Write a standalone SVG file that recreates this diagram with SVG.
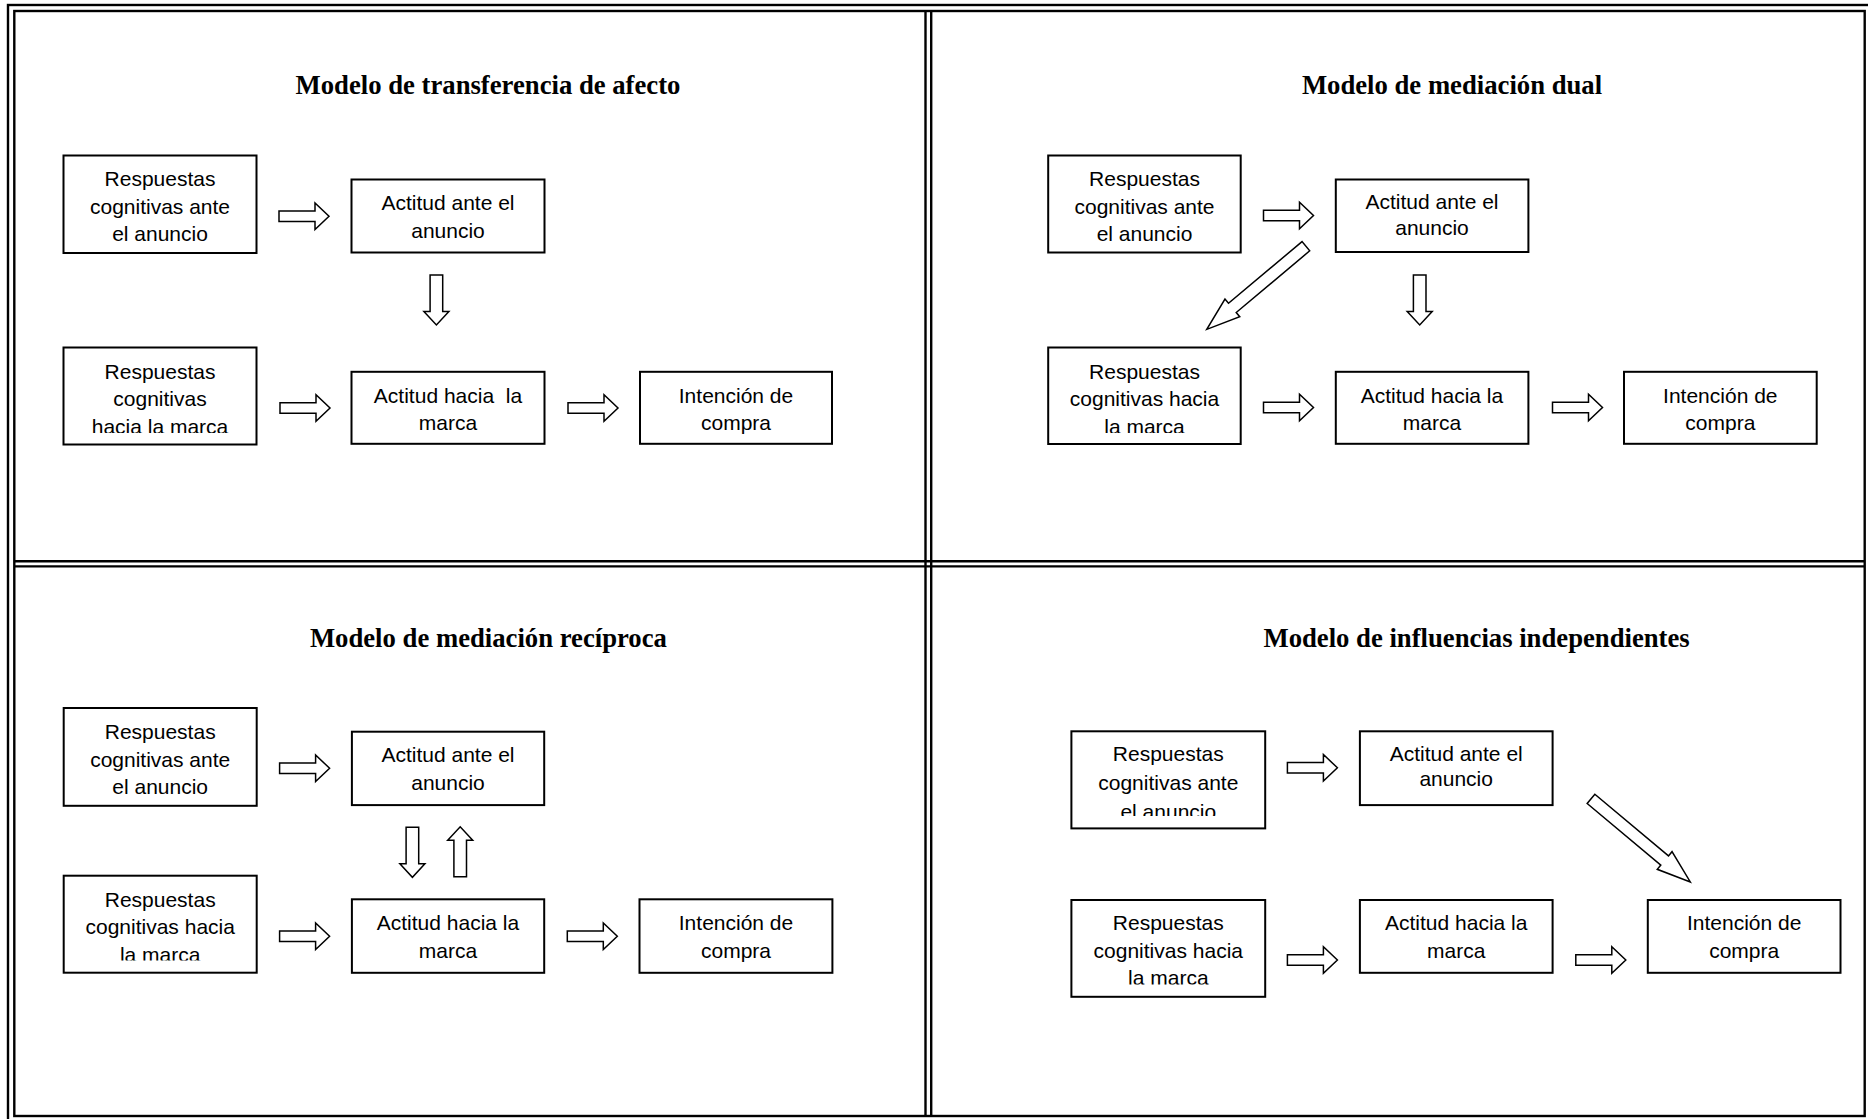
<svg xmlns="http://www.w3.org/2000/svg" xmlns:xlink="http://www.w3.org/1999/xlink" width="1868" height="1119" viewBox="0 0 1868 1119">
<style>
.frame{fill:none;stroke:#000;stroke-width:2.4}
.box{fill:#fff;stroke:#000;stroke-width:2}
.t{font-family:"Liberation Sans",Arial,sans-serif;font-size:21px;text-anchor:middle;fill:#000;white-space:pre}
.h{font-family:"Liberation Serif","Times New Roman",serif;font-size:26.7px;font-weight:bold;text-anchor:middle;fill:#000}
.arr{fill:#fff;stroke:#000;stroke-width:1.5;stroke-linejoin:miter}
</style>
<defs>
<path id="ha" d="M0,-5.3 H36 V-13.3 L50,0 L36,13.3 V5.3 H0 Z"/>
<path id="va" d="M0,-6.3 H36.5 V-12.5 L50,0 L36.5,12.5 V6.3 H0 Z"/>
<path id="da" d="M0,-6 H96 V-11.5 L129.4,0 L96,11.5 V6 H0 Z"/>
<clipPath id="c1r2" clipPathUnits="userSpaceOnUse"><rect x="64" y="348" width="192" height="85"/></clipPath>
<clipPath id="c2r2" clipPathUnits="userSpaceOnUse"><rect x="1049" y="348" width="191" height="85"/></clipPath>
<clipPath id="c3r2" clipPathUnits="userSpaceOnUse"><rect x="64" y="876" width="192" height="84.5"/></clipPath>
<clipPath id="c4r1" clipPathUnits="userSpaceOnUse"><rect x="1072" y="732" width="192" height="84"/></clipPath>
<clipPath id="c4r2" clipPathUnits="userSpaceOnUse"><rect x="1072" y="901" width="192" height="83.5"/></clipPath>
</defs>
<rect width="1868" height="1119" fill="#fff"/>
<g id="frame">
<rect class="frame" x="8" y="5" width="1872" height="1125"/>
<rect class="frame" x="14.3" y="11" width="1850.4" height="1105"/>
<line class="frame" x1="925.5" y1="11" x2="925.5" y2="1116"/>
<line class="frame" x1="931.2" y1="11" x2="931.2" y2="1116"/>
<line class="frame" x1="14.3" y1="561.2" x2="1864.7" y2="561.2"/>
<line class="frame" x1="14.3" y1="566.4" x2="1864.7" y2="566.4"/>
</g>
<g id="titles">
<text class="h" x="488" y="94">Modelo de transferencia de afecto</text>
<text class="h" x="1452" y="94">Modelo de mediación dual</text>
<text class="h" x="488.4" y="647">Modelo de mediación recíproca</text>
<text class="h" x="1476.6" y="647">Modelo de influencias independientes</text>
</g>
<!-- Panel 1 -->
<g id="p1-resp-anuncio"><rect class="box" x="63.5" y="155.5" width="193" height="97.5"/>
<text class="t"><tspan x="160" y="186">Respuestas</tspan><tspan x="160" y="213.7">cognitivas ante</tspan><tspan x="160" y="241.4">el anuncio</tspan></text></g>
<g id="p1-act-anuncio"><rect class="box" x="351.5" y="179.5" width="193" height="73"/>
<text class="t"><tspan x="448" y="210.3">Actitud ante el</tspan><tspan x="448" y="237.8">anuncio</tspan></text></g>
<g id="p1-resp-marca"><rect class="box" x="63.5" y="347.5" width="193" height="97"/>
<text class="t" clip-path="url(#c1r2)"><tspan x="160" y="378.5">Respuestas</tspan><tspan x="160" y="406.2">cognitivas</tspan><tspan x="160" y="433.9">hacia la marca</tspan></text></g>
<g id="p1-act-marca"><rect class="box" x="351.5" y="371.8" width="193" height="72"/>
<text class="t"><tspan x="448" y="402.7">Actitud hacia  la</tspan><tspan x="448" y="430.4">marca</tspan></text></g>
<g id="p1-intencion"><rect class="box" x="640" y="371.8" width="192" height="72"/>
<text class="t"><tspan x="736" y="402.7">Intención de</tspan><tspan x="736" y="430.4">compra</tspan></text></g>
<!-- Panel 2 -->
<g id="p2-resp-anuncio"><rect class="box" x="1048.2" y="155.5" width="192.5" height="97"/>
<text class="t"><tspan x="1144.5" y="186">Respuestas</tspan><tspan x="1144.5" y="213.7">cognitivas ante</tspan><tspan x="1144.5" y="241.4">el anuncio</tspan></text></g>
<g id="p2-act-anuncio"><rect class="box" x="1335.8" y="179.5" width="192.6" height="72.5"/>
<text class="t"><tspan x="1432" y="209.3">Actitud ante el</tspan><tspan x="1432" y="234.6">anuncio</tspan></text></g>
<g id="p2-resp-marca"><rect class="box" x="1048.2" y="347.5" width="192.5" height="96.5"/>
<text class="t" clip-path="url(#c2r2)"><tspan x="1144.5" y="378.5">Respuestas</tspan><tspan x="1144.5" y="406.2">cognitivas hacia</tspan><tspan x="1144.5" y="433.9">la marca</tspan></text></g>
<g id="p2-act-marca"><rect class="box" x="1335.8" y="371.8" width="192.6" height="72"/>
<text class="t"><tspan x="1432" y="402.7">Actitud hacia la</tspan><tspan x="1432" y="430.4">marca</tspan></text></g>
<g id="p2-intencion"><rect class="box" x="1624" y="371.8" width="192.7" height="72"/>
<text class="t"><tspan x="1720.3" y="402.7">Intención de</tspan><tspan x="1720.3" y="430.4">compra</tspan></text></g>
<!-- Panel 3 -->
<g id="p3-resp-anuncio"><rect class="box" x="63.7" y="708" width="193" height="97.8"/>
<text class="t"><tspan x="160.2" y="739">Respuestas</tspan><tspan x="160.2" y="766.7">cognitivas ante</tspan><tspan x="160.2" y="794.4">el anuncio</tspan></text></g>
<g id="p3-act-anuncio"><rect class="box" x="351.9" y="731.7" width="192.3" height="73.4"/>
<text class="t"><tspan x="448" y="761.5">Actitud ante el</tspan><tspan x="448" y="789.5">anuncio</tspan></text></g>
<g id="p3-resp-marca"><rect class="box" x="63.7" y="875.7" width="193" height="97"/>
<text class="t" clip-path="url(#c3r2)"><tspan x="160.2" y="906.8">Respuestas</tspan><tspan x="160.2" y="934">cognitivas hacia</tspan><tspan x="160.2" y="961.6">la marca</tspan></text></g>
<g id="p3-act-marca"><rect class="box" x="351.9" y="899.3" width="192.3" height="73.5"/>
<text class="t"><tspan x="448" y="930">Actitud hacia la</tspan><tspan x="448" y="957.7">marca</tspan></text></g>
<g id="p3-intencion"><rect class="box" x="639.5" y="899.3" width="192.9" height="73.5"/>
<text class="t"><tspan x="736" y="930">Intención de</tspan><tspan x="736" y="957.7">compra</tspan></text></g>
<!-- Panel 4 -->
<g id="p4-resp-anuncio"><rect class="box" x="1071.4" y="731.3" width="193.8" height="97.1"/>
<text class="t" clip-path="url(#c4r1)"><tspan x="1168.3" y="761.3">Respuestas</tspan><tspan x="1168.3" y="790">cognitivas ante</tspan><tspan x="1168.3" y="818.5">el anuncio</tspan></text></g>
<g id="p4-act-anuncio"><rect class="box" x="1359.9" y="731.3" width="192.7" height="73.8"/>
<text class="t"><tspan x="1456.2" y="761.3">Actitud ante el</tspan><tspan x="1456.2" y="786.3">anuncio</tspan></text></g>
<g id="p4-resp-marca"><rect class="box" x="1071.4" y="900" width="193.8" height="96.8"/>
<text class="t" clip-path="url(#c4r2)"><tspan x="1168.3" y="930">Respuestas</tspan><tspan x="1168.3" y="957.7">cognitivas hacia</tspan><tspan x="1168.3" y="985.4">la marca</tspan></text></g>
<g id="p4-act-marca"><rect class="box" x="1359.9" y="900" width="192.7" height="72.8"/>
<text class="t"><tspan x="1456.2" y="930">Actitud hacia la</tspan><tspan x="1456.2" y="957.7">marca</tspan></text></g>
<g id="p4-intencion"><rect class="box" x="1647.8" y="900" width="192.7" height="72.8"/>
<text class="t"><tspan x="1744.2" y="930">Intención de</tspan><tspan x="1744.2" y="957.7">compra</tspan></text></g>
<g id="connectors">
<use xlink:href="#ha" class="arr" transform="translate(279,216.3)"/>
<use xlink:href="#ha" class="arr" transform="translate(280,408)"/>
<use xlink:href="#ha" class="arr" transform="translate(568,408)"/>
<use xlink:href="#va" class="arr" transform="translate(436.4,275) rotate(90)"/>
<use xlink:href="#ha" class="arr" transform="translate(1263.5,215.5)"/>
<use xlink:href="#ha" class="arr" transform="translate(1263.5,407.5)"/>
<use xlink:href="#ha" class="arr" transform="translate(1552.5,407.5)"/>
<use xlink:href="#va" class="arr" transform="translate(1419.7,275) rotate(90)"/>
<use xlink:href="#da" class="arr" transform="translate(1305.9,246.2) rotate(140)"/>
<use xlink:href="#ha" class="arr" transform="translate(279.6,768.3)"/>
<use xlink:href="#ha" class="arr" transform="translate(279.6,936.3)"/>
<use xlink:href="#ha" class="arr" transform="translate(567.3,936.3)"/>
<use xlink:href="#va" class="arr" transform="translate(412.4,827.3) rotate(90)"/>
<use xlink:href="#va" class="arr" transform="translate(460.2,876.8) rotate(-90)"/>
<use xlink:href="#ha" class="arr" transform="translate(1287.4,767.8)"/>
<use xlink:href="#ha" class="arr" transform="translate(1287.4,960)"/>
<use xlink:href="#ha" class="arr" transform="translate(1575.8,960)"/>
<use xlink:href="#da" class="arr" transform="translate(1591,798.9) rotate(39.9)"/>
</g>
</svg>
